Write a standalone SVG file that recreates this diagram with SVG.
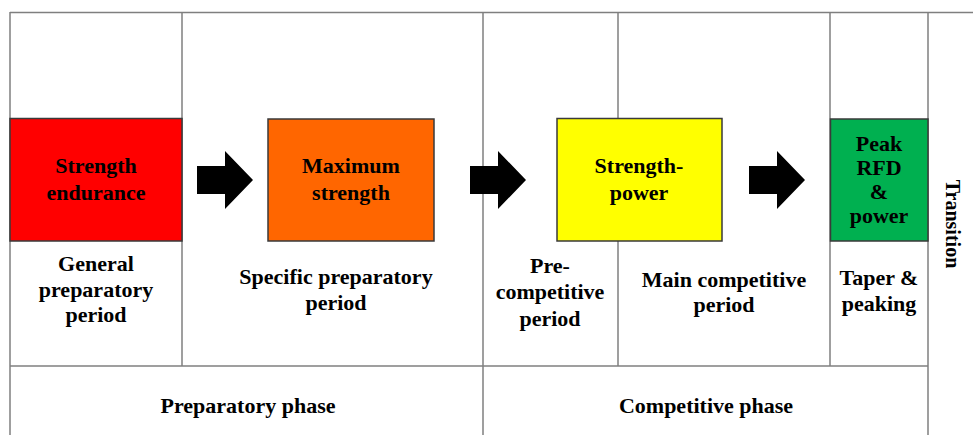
<svg xmlns="http://www.w3.org/2000/svg" width="973" height="435" viewBox="0 0 973 435">
<style>
.grid{stroke:#7f7f7f;stroke-width:1.5;fill:none}
.box{stroke:#3a3a3a;stroke-width:1.5}
.t{font-family:'Liberation Serif',Tinos,'Times New Roman','DejaVu Serif',serif;font-weight:700;font-size:22px;fill:#000;text-anchor:middle}
.arrow{fill:#000}
</style>
<rect width="973" height="435" fill="#fff"/>
<g id="grid">
<line class="grid" x1="10" y1="12.5" x2="973" y2="12.5" stroke="#555"/>
<line class="grid" x1="10" y1="12" x2="10" y2="435"/>
<line class="grid" x1="182" y1="12" x2="182" y2="366"/>
<line class="grid" x1="483" y1="12" x2="483" y2="435"/>
<line class="grid" x1="618" y1="12" x2="618" y2="366"/>
<line class="grid" x1="830" y1="12" x2="830" y2="366"/>
<line class="grid" x1="928" y1="12" x2="928" y2="435"/>
<line class="grid" x1="10" y1="366" x2="928" y2="366"/>
</g>
<g id="node-strength-endurance">
<rect class="box" x="10" y="118.5" width="172" height="122.5" fill="#ff0000"/>
<text class="t" x="96" y="173">Strength</text>
<text class="t" x="96" y="200">endurance</text>
</g>
<g id="node-maximum-strength">
<rect class="box" x="268" y="119" width="166" height="122" fill="#ff6600"/>
<text class="t" x="351" y="173">Maximum</text>
<text class="t" x="351" y="200">strength</text>
</g>
<g id="node-strength-power">
<rect class="box" x="557" y="118.5" width="165" height="122.5" fill="#ffff00"/>
<text class="t" x="639" y="173">Strength-</text>
<text class="t" x="639" y="200">power</text>
</g>
<g id="node-peak">
<rect class="box" x="830.5" y="119" width="97.5" height="122" fill="#00b050"/>
<text class="t" x="879" y="151">Peak</text>
<text class="t" x="879" y="175">RFD</text>
<text class="t" x="879" y="199">&amp;</text>
<text class="t" x="879" y="223">power</text>
</g>
<g id="connectors">
<polygon class="arrow" points="197,166 225,166 225,151 253,180 225,209 225,194 197,194"/>
<polygon class="arrow" points="470,166 498,166 498,151 526,180 498,209 498,194 470,194"/>
<polygon class="arrow" points="749,166 777,166 777,151 805,180 777,209 777,194 749,194"/>
</g>
<g id="labels">
<g id="label-general">
<text class="t" x="96" y="271">General</text>
<text class="t" x="96" y="297">preparatory</text>
<text class="t" x="96" y="322">period</text>
</g>
<g id="label-specific">
<text class="t" x="336" y="284">Specific preparatory</text>
<text class="t" x="336" y="310">period</text>
</g>
<g id="label-pre">
<text class="t" x="550" y="273">Pre-</text>
<text class="t" x="550" y="299">competitive</text>
<text class="t" x="550" y="326">period</text>
</g>
<g id="label-main">
<text class="t" x="724" y="287">Main competitive</text>
<text class="t" x="724" y="312">period</text>
</g>
<g id="label-taper">
<text class="t" x="879" y="285">Taper &amp;</text>
<text class="t" x="879" y="311">peaking</text>
</g>
<g id="label-preparatory-phase">
<text class="t" x="248" y="413">Preparatory phase</text>
</g>
<g id="label-competitive-phase">
<text class="t" x="706" y="413">Competitive phase</text>
</g>
<g id="label-transition">
<text class="t" style="font-size:20px" transform="translate(946,224) rotate(90)" x="0" y="0">Transition</text>
</g>
</g>
</svg>
